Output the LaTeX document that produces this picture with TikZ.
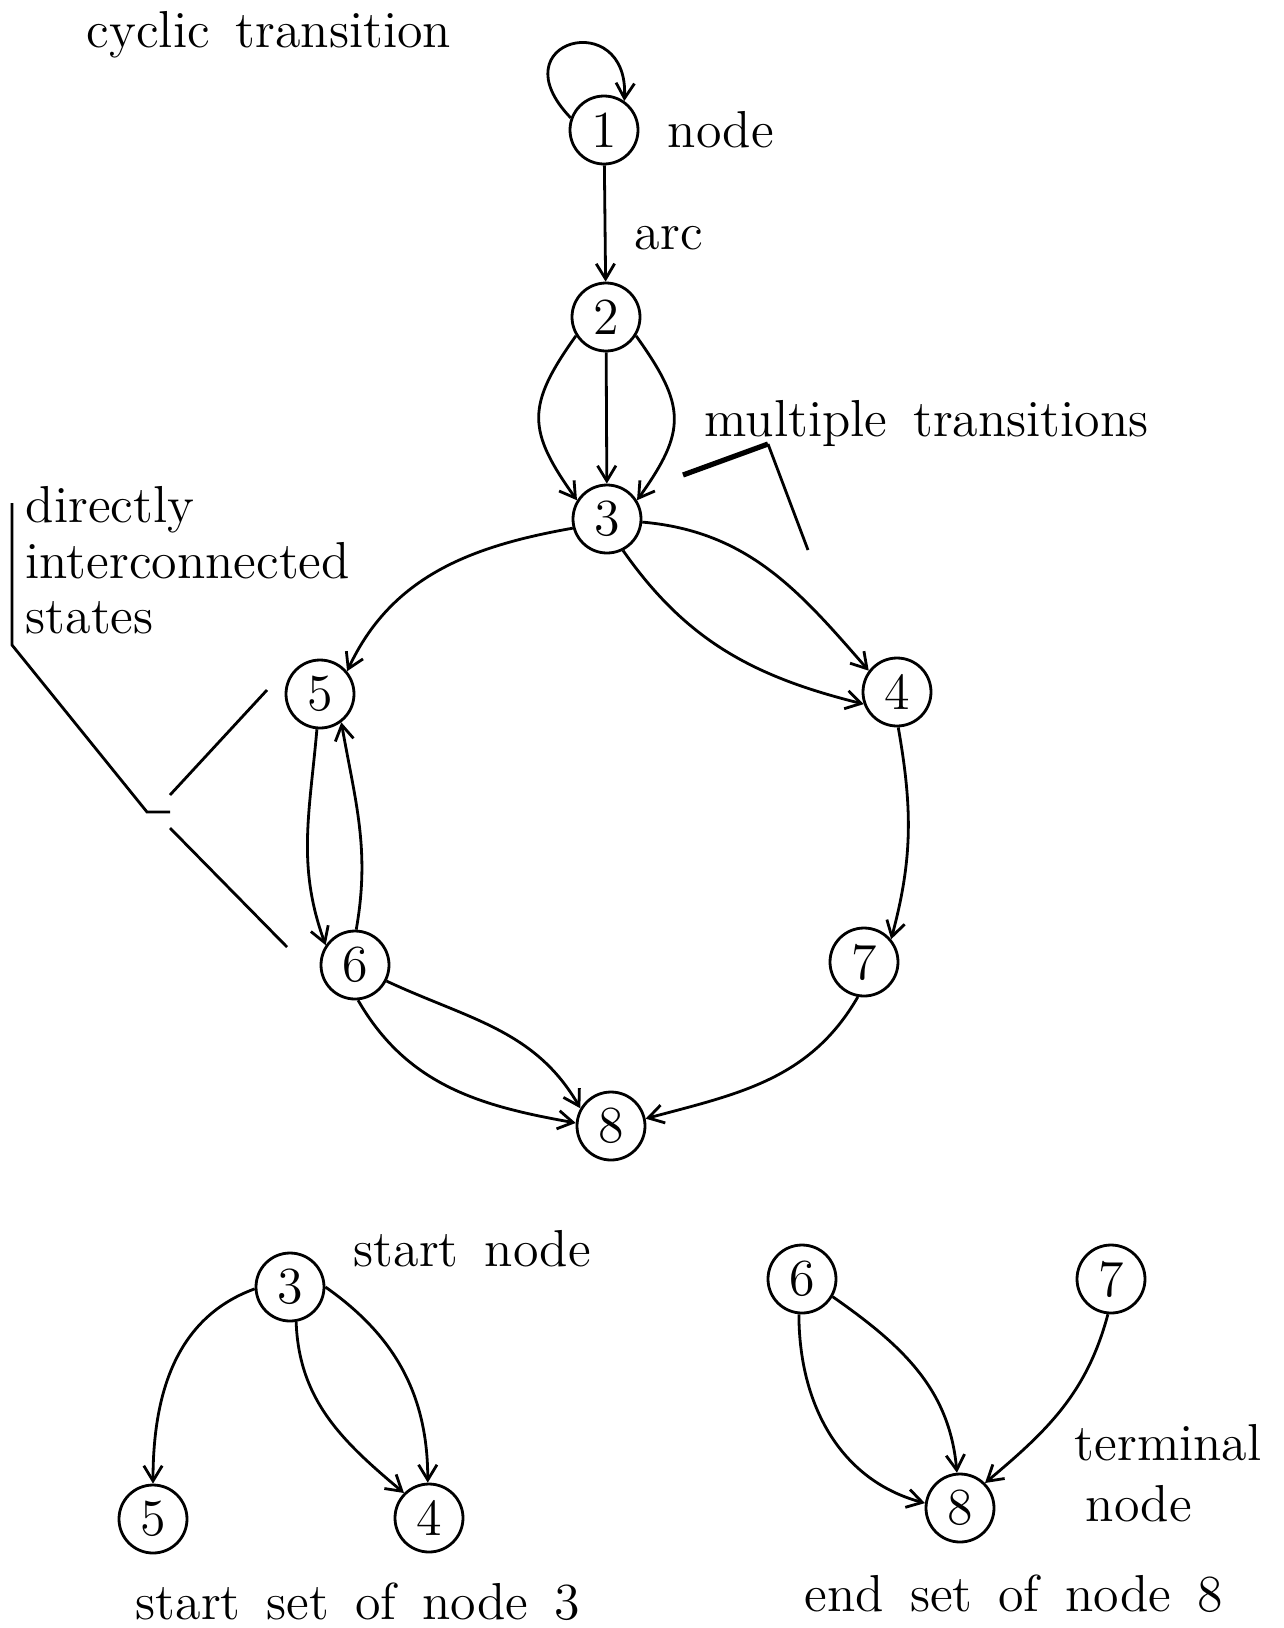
\documentclass[tikz,border=0pt]{standalone}
\usetikzlibrary{arrows.meta}
\begin{document}
\begin{tikzpicture}[x=0.25pt,y=-0.25pt,
  state/.style={circle,draw,line width=0.7pt,minimum size=17pt,inner sep=0pt,
    font={\fontsize{13}{15}\selectfont}},
  arr/.style={line width=0.7pt,-{Straight Barb[length=3.8pt,width=4.6pt]}},
  lbl/.style={anchor=base west,inner sep=0pt,
    font={\fontsize{13}{15}\selectfont\spaceskip=6.5pt plus 1pt minus 1pt\relax}},
  lead/.style={line width=0.7pt}]
\useasboundingbox (0,0) rectangle (1284,1628);

% main graph
\node[state] (n1) at (604,130) {1};
\node[state] (n2) at (606,317) {2};
\node[state] (n3) at (607,519) {3};
\node[state] (n4) at (897,692) {4};
\node[state] (n5) at (320,694) {5};
\node[state] (n6) at (355,965) {6};
\node[state] (n7) at (864,962) {7};
\node[state] (n8) at (611,1126) {8};

% start set of node 3
\node[state] (s3) at (290,1287) {3};
\node[state] (s5) at (153,1519) {5};
\node[state] (s4) at (429,1518) {4};

% end set of node 8
\node[state] (e6) at (802,1279) {6};
\node[state] (e7) at (1111,1279) {7};
\node[state] (e8) at (960,1508) {8};

% labels
\node[lbl] (tcyc) at (86,47) {cyclic transition};
\node[lbl] (tnode) at (667,147) {node};
\node[lbl] (tarc) at (634,249) {arc};
\node[lbl] (tmult) at (704,436) {multiple transitions};
\node[lbl] (tdir1) at (25,522) {directly};
\node[lbl] (tdir2) at (25,578) {interconnected};
\node[lbl] (tdir3) at (25,633) {states};
\node[lbl] (tstart) at (353,1266) {start node};
\node[lbl] (tterm1) at (1074,1460) {terminal};
\node[lbl] (tterm2) at (1085,1521) {node};
\node[lbl] (tsset) at (135,1619) {start set of node 3};
\node[lbl] (teset) at (804,1611) {end set of node 8};

% arcs of the main graph
\draw[arr] (n1.160) .. controls +(-75,-78) and +(5,-95) .. (n1.55);
\draw[arr] (n1) -- (n2);
\draw[arr] (n2) -- (n3);
\draw[arr] (n2.212) .. controls +(-50,70) and +(-50,-70) .. (n3.148);
\draw[arr] (n2.-32) .. controls +(50,70) and +(50,-70) .. (n3.32);
\draw[arr] (n3.195) to[out=190,in=65] (n5.40);
\draw[arr] (n3.-5) to[out=-5,in=131] (n4.143);
\draw[arr] (n3.-63) to[out=-55,in=166] (n4.200);
\draw[arr] (n4.-88) to[out=-80,in=75] (n7.40);
\draw[arr] (n5.-95) to[out=-95,in=110] (n6.146);
\draw[arr] (n6.88) to[out=80,in=-80] (n5.-53);
\draw[arr] (n6.-27) to[out=-25,in=120] (n8.150);
\draw[arr] (n6.-85) to[out=-60,in=170] (n8.175);
\draw[arr] (n7.-100) to[out=-120,in=15] (n8.12);

% arcs of the start set
\draw[arr] (s3.183) to[out=200,in=90] (s5.90);
\draw[arr] (s3.-80) to[out=-88,in=140] (s4.135);
\draw[arr] (s3.0) to[out=-35,in=90] (s4.92);

% arcs of the end set
\draw[arr] (e6.-95) to[out=-90,in=165] (e8.172);
\draw[arr] (e6.-30) to[out=-35,in=95] (e8.95);
\draw[arr] (e7.-95) to[out=-105,in=40] (e8.45);

% leader lines
\coordinate (m1) at (683,475);
\coordinate (m2) at (768,444);
\coordinate (m3) at (808,550);
\draw[line width=1.3pt] (m1) -- (m2);
\draw[lead] (m2) -- (m3);

\coordinate (b1) at (12,503);
\coordinate (b2) at (12,645);
\coordinate (b3) at (147,812);
\coordinate (b4) at (170,812);
\draw[lead] (b1) -- (b2) -- (b3) -- (b4);
\coordinate (c1) at (170,795);
\coordinate (c2) at (267,690);
\coordinate (d1) at (170,828);
\coordinate (d2) at (287,947);
\draw[lead] (c1) -- (c2);
\draw[lead] (d1) -- (d2);
\end{tikzpicture}
\end{document}
